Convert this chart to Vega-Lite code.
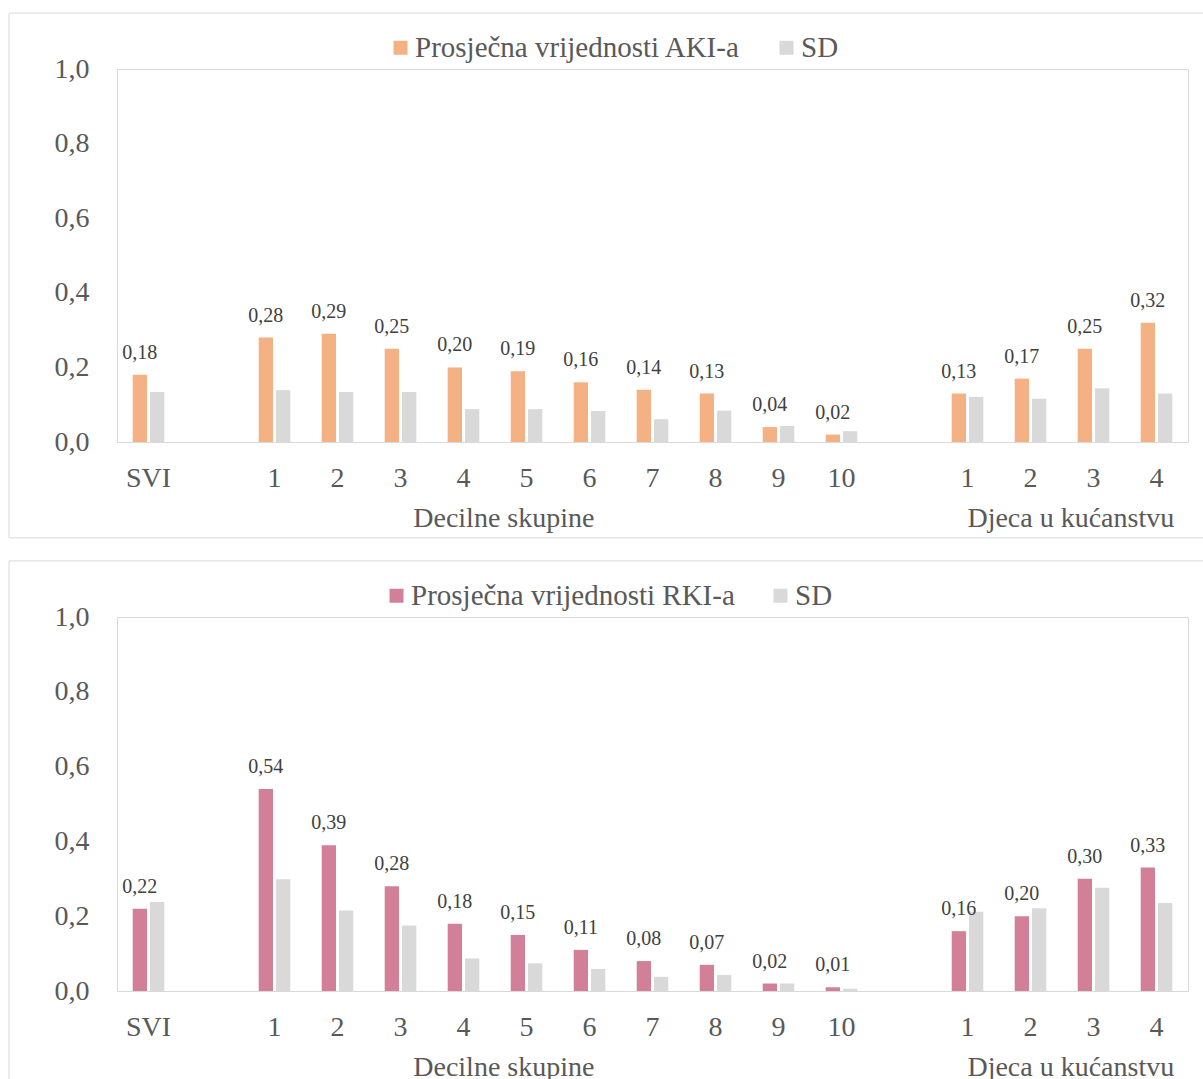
{
  "$schema": "https://vega.github.io/schema/vega-lite/v6.json",
  "padding": {"left": 8, "top": 12, "right": 0, "bottom": 0},
  "background": "white",
  "spacing": 20,
  "config": {
    "locale": {"number": {"decimal": ",", "thousands": ".", "grouping": [3], "currency": ["", ""]}},
    "font": "Liberation Serif, Times New Roman, serif",
    "view": {"stroke": "#D9D9D9", "strokeWidth": 1},
    "axis": {"labelFont": "Liberation Serif, Times New Roman, serif", "labelFontSize": 28, "labelColor": "#595959"},
    "legend": {"labelFont": "Liberation Serif, Times New Roman, serif", "labelLimit": 0},
    "text": {"font": "Liberation Serif, Times New Roman, serif"}
  },
  "datasets": {
    "aki": [
      {"cat": "SVI", "series": "Prosječna vrijednosti AKI-a", "value": 0.18},
      {"cat": "SVI", "series": "SD", "value": 0.134},
      {"cat": "d1", "series": "Prosječna vrijednosti AKI-a", "value": 0.28},
      {"cat": "d1", "series": "SD", "value": 0.139},
      {"cat": "d2", "series": "Prosječna vrijednosti AKI-a", "value": 0.29},
      {"cat": "d2", "series": "SD", "value": 0.134},
      {"cat": "d3", "series": "Prosječna vrijednosti AKI-a", "value": 0.25},
      {"cat": "d3", "series": "SD", "value": 0.134},
      {"cat": "d4", "series": "Prosječna vrijednosti AKI-a", "value": 0.20},
      {"cat": "d4", "series": "SD", "value": 0.088},
      {"cat": "d5", "series": "Prosječna vrijednosti AKI-a", "value": 0.19},
      {"cat": "d5", "series": "SD", "value": 0.088},
      {"cat": "d6", "series": "Prosječna vrijednosti AKI-a", "value": 0.16},
      {"cat": "d6", "series": "SD", "value": 0.083},
      {"cat": "d7", "series": "Prosječna vrijednosti AKI-a", "value": 0.14},
      {"cat": "d7", "series": "SD", "value": 0.061},
      {"cat": "d8", "series": "Prosječna vrijednosti AKI-a", "value": 0.13},
      {"cat": "d8", "series": "SD", "value": 0.084},
      {"cat": "d9", "series": "Prosječna vrijednosti AKI-a", "value": 0.04},
      {"cat": "d9", "series": "SD", "value": 0.043},
      {"cat": "d10", "series": "Prosječna vrijednosti AKI-a", "value": 0.02},
      {"cat": "d10", "series": "SD", "value": 0.029},
      {"cat": "k1", "series": "Prosječna vrijednosti AKI-a", "value": 0.13},
      {"cat": "k1", "series": "SD", "value": 0.121},
      {"cat": "k2", "series": "Prosječna vrijednosti AKI-a", "value": 0.17},
      {"cat": "k2", "series": "SD", "value": 0.116},
      {"cat": "k3", "series": "Prosječna vrijednosti AKI-a", "value": 0.25},
      {"cat": "k3", "series": "SD", "value": 0.144},
      {"cat": "k4", "series": "Prosječna vrijednosti AKI-a", "value": 0.32},
      {"cat": "k4", "series": "SD", "value": 0.13}
    ],
    "rki": [
      {"cat": "SVI", "series": "Prosječna vrijednosti RKI-a", "value": 0.22},
      {"cat": "SVI", "series": "SD", "value": 0.238},
      {"cat": "d1", "series": "Prosječna vrijednosti RKI-a", "value": 0.54},
      {"cat": "d1", "series": "SD", "value": 0.299},
      {"cat": "d2", "series": "Prosječna vrijednosti RKI-a", "value": 0.39},
      {"cat": "d2", "series": "SD", "value": 0.215},
      {"cat": "d3", "series": "Prosječna vrijednosti RKI-a", "value": 0.28},
      {"cat": "d3", "series": "SD", "value": 0.175},
      {"cat": "d4", "series": "Prosječna vrijednosti RKI-a", "value": 0.18},
      {"cat": "d4", "series": "SD", "value": 0.087},
      {"cat": "d5", "series": "Prosječna vrijednosti RKI-a", "value": 0.15},
      {"cat": "d5", "series": "SD", "value": 0.074},
      {"cat": "d6", "series": "Prosječna vrijednosti RKI-a", "value": 0.11},
      {"cat": "d6", "series": "SD", "value": 0.059},
      {"cat": "d7", "series": "Prosječna vrijednosti RKI-a", "value": 0.08},
      {"cat": "d7", "series": "SD", "value": 0.038},
      {"cat": "d8", "series": "Prosječna vrijednosti RKI-a", "value": 0.07},
      {"cat": "d8", "series": "SD", "value": 0.043},
      {"cat": "d9", "series": "Prosječna vrijednosti RKI-a", "value": 0.02},
      {"cat": "d9", "series": "SD", "value": 0.02},
      {"cat": "d10", "series": "Prosječna vrijednosti RKI-a", "value": 0.01},
      {"cat": "d10", "series": "SD", "value": 0.006},
      {"cat": "k1", "series": "Prosječna vrijednosti RKI-a", "value": 0.16},
      {"cat": "k1", "series": "SD", "value": 0.212},
      {"cat": "k2", "series": "Prosječna vrijednosti RKI-a", "value": 0.20},
      {"cat": "k2", "series": "SD", "value": 0.221},
      {"cat": "k3", "series": "Prosječna vrijednosti RKI-a", "value": 0.30},
      {"cat": "k3", "series": "SD", "value": 0.276},
      {"cat": "k4", "series": "Prosječna vrijednosti RKI-a", "value": 0.33},
      {"cat": "k4", "series": "SD", "value": 0.235}
    ],
    "groups": [
      {"cat": "d5", "group": "Decilne skupine"},
      {"cat": "k3", "group": "Djeca u kućanstvu"}
    ]
  },
  "vconcat": [
    {
      "width": 1071,
      "height": 373,
      "layer": [
        {
          "data": {"name": "aki"},
          "mark": {"type": "bar"},
          "encoding": {
            "x": {"field": "cat", "type": "nominal", "sort": null, "title": null,
              "scale": {"domain": ["SVI", "gap1", "d1", "d2", "d3", "d4", "d5", "d6", "d7", "d8", "d9", "d10", "gap2", "k1", "k2", "k3", "k4"], "paddingInner": 0, "paddingOuter": 0},
              "axis": {"labelAngle": 0, "labelAlign": "center", "labelBaseline": "top", "ticks": false, "domainColor": "#D9D9D9", "labelPadding": 22,
                "labelExpr": "datum.value == 'SVI' ? 'SVI' : (indexof(datum.value, 'gap') == 0 ? '' : substring(datum.value, 1))"}},
            "xOffset": {"field": "series", "type": "nominal",
              "scale": {"domain": ["Prosječna vrijednosti AKI-a", "SD"], "paddingInner": 0.17, "paddingOuter": 0.91}},
            "y": {"field": "value", "type": "quantitative", "title": null,
              "scale": {"domain": [0, 1]},
              "axis": {"values": [0, 0.2, 0.4, 0.6, 0.8, 1], "format": ".1f", "grid": false, "domain": false, "ticks": false, "labelPadding": 28}},
            "color": {"field": "series", "type": "nominal",
              "scale": {"domain": ["Prosječna vrijednosti AKI-a", "SD"], "range": ["#F4B183", "#D9D9D9"]},
              "legend": {"orient": "none", "legendX": 269, "legendY": -36, "direction": "horizontal", "title": null,
                "symbolType": "square", "symbolSize": 196, "symbolStrokeWidth": 0, "labelFontSize": 29,
                "labelColor": "#595959", "columnPadding": 31, "labelOffset": 0}}
          }
        },
        {
          "data": {"name": "aki"},
          "transform": [{"filter": "datum.series != 'SD'"}],
          "mark": {"type": "text", "baseline": "alphabetic", "dy": -16, "fontSize": 20, "color": "#404040"},
          "encoding": {
            "x": {"field": "cat", "type": "nominal", "sort": null},
            "xOffset": {"field": "series", "type": "nominal"},
            "y": {"field": "value", "type": "quantitative"},
            "text": {"field": "value", "type": "quantitative", "format": ".2f"}
          }
        },
        {
          "data": {"name": "groups"},
          "mark": {"type": "text", "baseline": "alphabetic", "dy": 85, "fontSize": 28, "color": "#595959"},
          "encoding": {
            "x": {"field": "cat", "type": "nominal", "sort": null, "bandPosition": 0.14},
            "y": {"datum": 0, "type": "quantitative"},
            "text": {"field": "group"}
          }
        },
        {
          "data": {"values": [{}]},
          "mark": {"type": "rect", "fill": "white", "fillOpacity": 0, "stroke": "#D9D9D9", "strokeWidth": 1},
          "encoding": {
            "x": {"datum": "SVI", "type": "nominal", "bandPosition": -1.714},
            "x2": {"datum": "k4", "bandPosition": 1.5},
            "y": {"datum": 1.15, "type": "quantitative"},
            "y2": {"datum": -0.257}
          }
        }
      ]
    },
    {
      "width": 1071,
      "height": 374,
      "layer": [
        {
          "data": {"name": "rki"},
          "mark": {"type": "bar"},
          "encoding": {
            "x": {"field": "cat", "type": "nominal", "sort": null, "title": null,
              "scale": {"domain": ["SVI", "gap1", "d1", "d2", "d3", "d4", "d5", "d6", "d7", "d8", "d9", "d10", "gap2", "k1", "k2", "k3", "k4"], "paddingInner": 0, "paddingOuter": 0},
              "axis": {"labelAngle": 0, "labelAlign": "center", "labelBaseline": "top", "ticks": false, "domainColor": "#D9D9D9", "labelPadding": 22,
                "labelExpr": "datum.value == 'SVI' ? 'SVI' : (indexof(datum.value, 'gap') == 0 ? '' : substring(datum.value, 1))"}},
            "xOffset": {"field": "series", "type": "nominal",
              "scale": {"domain": ["Prosječna vrijednosti RKI-a", "SD"], "paddingInner": 0.17, "paddingOuter": 0.91}},
            "y": {"field": "value", "type": "quantitative", "title": null,
              "scale": {"domain": [0, 1]},
              "axis": {"values": [0, 0.2, 0.4, 0.6, 0.8, 1], "format": ".1f", "grid": false, "domain": false, "ticks": false, "labelPadding": 28}},
            "color": {"field": "series", "type": "nominal",
              "scale": {"domain": ["Prosječna vrijednosti RKI-a", "SD"], "range": ["#D28097", "#D9D9D9"]},
              "legend": {"orient": "none", "legendX": 265, "legendY": -36, "direction": "horizontal", "title": null,
                "symbolType": "square", "symbolSize": 196, "symbolStrokeWidth": 0, "labelFontSize": 29,
                "labelColor": "#595959", "columnPadding": 31, "labelOffset": 0}}
          }
        },
        {
          "data": {"name": "rki"},
          "transform": [{"filter": "datum.series != 'SD'"}],
          "mark": {"type": "text", "baseline": "alphabetic", "dy": -16, "fontSize": 20, "color": "#404040"},
          "encoding": {
            "x": {"field": "cat", "type": "nominal", "sort": null},
            "xOffset": {"field": "series", "type": "nominal"},
            "y": {"field": "value", "type": "quantitative"},
            "text": {"field": "value", "type": "quantitative", "format": ".2f"}
          }
        },
        {
          "data": {"name": "groups"},
          "mark": {"type": "text", "baseline": "alphabetic", "dy": 85, "fontSize": 28, "color": "#595959"},
          "encoding": {
            "x": {"field": "cat", "type": "nominal", "sort": null, "bandPosition": 0.14},
            "y": {"datum": 0, "type": "quantitative"},
            "text": {"field": "group"}
          }
        },
        {
          "data": {"values": [{}]},
          "mark": {"type": "rect", "fill": "white", "fillOpacity": 0, "stroke": "#D9D9D9", "strokeWidth": 1},
          "encoding": {
            "x": {"datum": "SVI", "type": "nominal", "bandPosition": -1.714},
            "x2": {"datum": "k4", "bandPosition": 1.5},
            "y": {"datum": 1.15, "type": "quantitative"},
            "y2": {"datum": -0.3}
          }
        }
      ]
    }
  ],
  "resolve": {
    "scale": {"color": "independent", "xOffset": "independent", "x": "independent", "y": "independent"},
    "legend": {"color": "independent"}
  }
}
